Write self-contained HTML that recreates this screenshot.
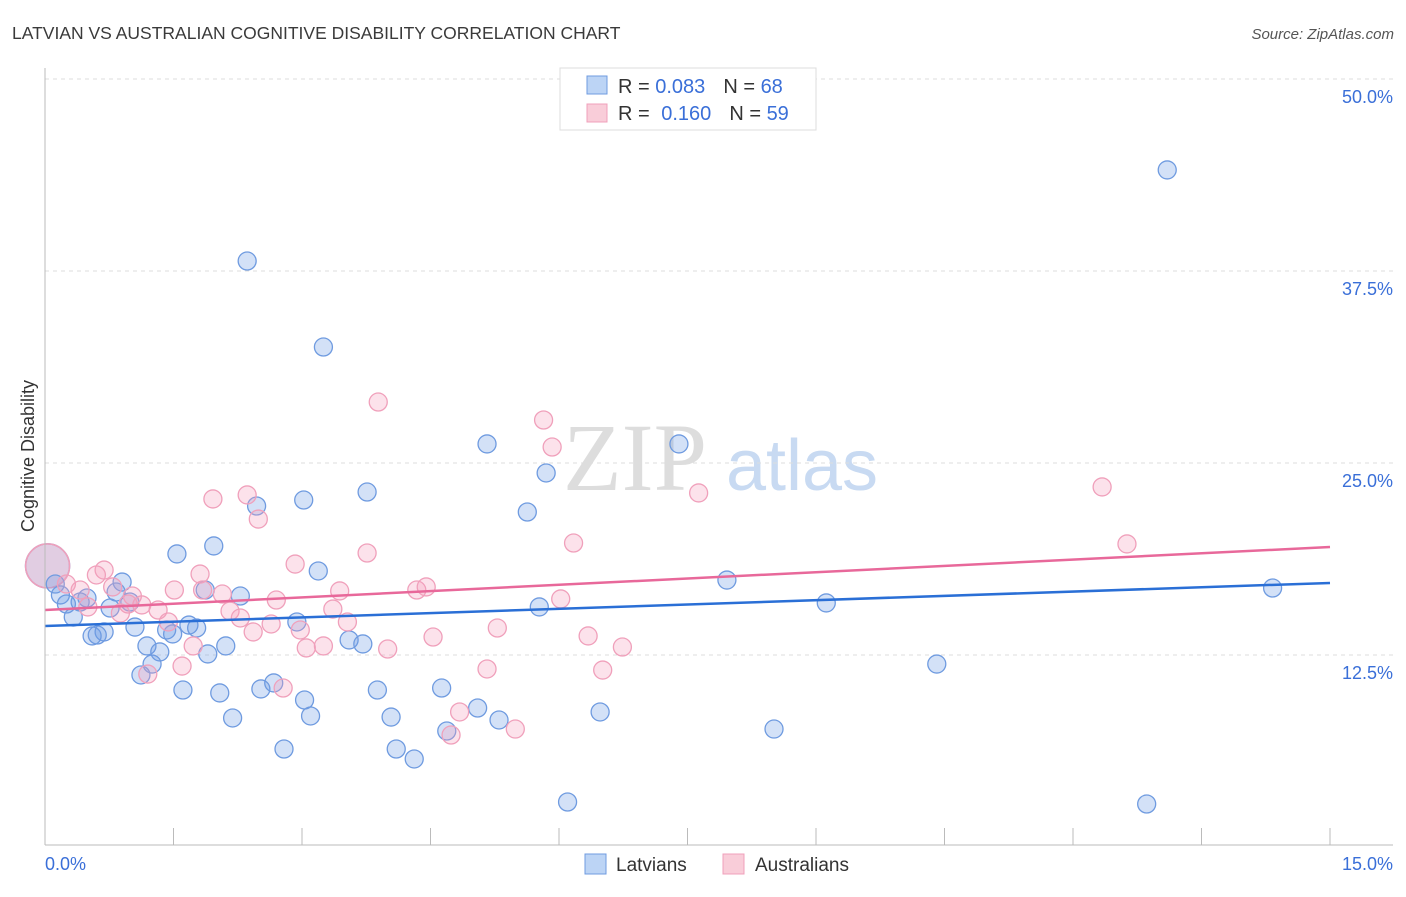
<!DOCTYPE html>
<html><head><meta charset="utf-8"><style>
body{margin:0;background:#fff;font-family:"Liberation Sans",sans-serif}
</style></head><body>
<svg id="chart" width="1406" height="892" xmlns="http://www.w3.org/2000/svg" font-family="Liberation Sans, sans-serif">
<text x="12" y="39" font-size="17.5" fill="#3a3a3a">LATVIAN VS AUSTRALIAN COGNITIVE DISABILITY CORRELATION CHART</text>
<text x="1394" y="39" font-size="15" fill="#555" font-style="italic" text-anchor="end">Source: ZipAtlas.com</text>
<text x="34" y="456" font-size="18" fill="#333" text-anchor="middle" transform="rotate(-90 34 456)">Cognitive Disability</text>
<g><text x="635" y="490" font-size="96" fill="#ddd" style="font-family:'Liberation Serif',serif" text-anchor="middle">ZIP</text><text x="802" y="490" font-size="72" fill="#c8daf2" text-anchor="middle">atlas</text></g>
<g id="grid"></g><g id="ticks"></g><g id="marks"></g><g id="trends"></g>
<line x1="45" y1="68" x2="45" y2="845" stroke="#bbb"/>
<line x1="45" y1="845" x2="1393" y2="845" stroke="#bbb"/>
<text x="45" y="870" font-size="18" fill="#3a6fd8">0.0%</text>
<text x="1393" y="870" font-size="18" fill="#3a6fd8" text-anchor="end">15.0%</text>
<g>
<rect x="560" y="68" width="256" height="62" fill="#fff" stroke="#ddd"/>
<rect x="587" y="76" width="20" height="18" fill="#bcd4f5" stroke="#6f9be0"/>
<text x="618" y="93" font-size="20" fill="#333">R = <tspan fill="#3a6fd8">0.083</tspan><tspan dx="18">N = </tspan><tspan fill="#3a6fd8">68</tspan></text>
<rect x="587" y="104" width="20" height="18" fill="#f9cdd9" stroke="#f0a0bb"/>
<text x="618" y="120" font-size="20" fill="#333">R = <tspan dx="6" fill="#3a6fd8">0.160</tspan><tspan dx="18">N = </tspan><tspan fill="#3a6fd8">59</tspan></text>
</g>
<g>
<rect x="585" y="854" width="21" height="20" fill="#bcd4f5" stroke="#6f9be0"/>
<text x="616" y="871" font-size="19" fill="#333">Latvians</text>
<rect x="723" y="854" width="21" height="20" fill="#f9cdd9" stroke="#f0a0bb"/>
<text x="755" y="871" font-size="19" fill="#333">Australians</text>
</g>
</svg>
<script>
const yTicks=[12.5,25,37.5,50];
const yTickLabels=["12.5%","25.0%","37.5%","50.0%"];
const xTicks=[1.5,3,4.5,6,7.5,9,10.5,12,13.5,15];
const latX=[13.10,2.36,3.25,5.16,7.40,5.85,3.76,3.02,2.47,5.63,1.97,1.54,3.19,7.96,14.33,0.90,0.12,0.18,0.83,0.49,2.28,1.87,0.41,0.99,0.25,0.76,5.77,9.12,0.33,2.94,1.68,1.05,1.77,1.42,1.49,0.69,0.55,0.61,3.55,3.71,1.19,2.11,1.34,1.90,1.25,10.41,1.12,2.67,1.61,2.52,3.88,4.63,2.04,3.03,5.05,6.48,3.10,4.04,2.19,5.30,4.69,8.51,2.79,4.10,4.31,6.10,12.86];
const latY=[44.08,38.15,32.55,26.24,26.24,24.35,23.11,22.59,22.20,21.81,19.60,19.08,17.97,17.38,16.86,17.25,17.12,16.41,16.60,16.21,16.34,16.73,15.95,15.95,15.82,15.56,15.63,15.89,14.97,14.65,14.45,14.32,14.26,14.13,13.87,14.00,13.74,13.80,13.48,13.22,13.09,13.09,12.70,12.57,11.91,11.91,11.20,10.68,10.22,10.29,10.22,10.35,10.03,9.57,9.05,8.79,8.53,8.46,8.40,8.27,7.55,7.68,6.38,6.38,5.73,2.93,2.80];
const ausX=[3.89,5.82,5.92,1.96,2.36,7.63,12.34,2.49,6.17,12.63,3.76,2.92,1.81,0.69,0.60,0.25,0.41,0.79,1.51,1.84,2.07,3.44,4.34,4.45,1.02,2.70,6.02,0.97,1.13,0.50,1.32,0.88,2.16,3.36,2.28,1.44,2.64,3.53,2.98,2.43,5.28,4.53,6.34,3.05,3.25,1.73,4.00,6.74,1.60,5.16,6.51,1.20,2.78,4.84,5.49,4.74];
const ausY=[28.97,27.80,26.04,22.66,22.92,23.05,23.44,21.35,19.79,19.73,19.14,18.42,17.77,18.03,17.71,17.12,16.73,16.93,16.73,16.73,16.47,16.67,16.73,16.93,16.34,16.08,16.15,15.82,15.76,15.63,15.43,15.23,15.36,15.49,14.91,14.65,14.52,14.65,14.13,14.00,14.26,13.67,13.74,12.96,13.09,13.09,12.89,13.02,11.78,11.59,11.52,11.26,10.35,8.79,7.68,7.29];
const bigPoint=[0.03,18.3];
const latTrend=[14.39,17.19];
const ausTrend=[15.43,19.53];
const NS="http://www.w3.org/2000/svg";
const X=v=>45+v*(1285/15);
const Y=v=>847-v*(192/12.5);
function mk(tag,attrs,parent){const e=document.createElementNS(NS,tag);for(const k in attrs)e.setAttribute(k,attrs[k]);document.getElementById(parent).appendChild(e);return e;}
yTicks.forEach((t,i)=>{
 const l=mk('line',{x1:45,x2:1393,y1:Y(t),y2:Y(t),stroke:'#ddd','stroke-dasharray':'4,4'},'grid');
 
 
 const tx=mk('text',{x:1393,y:Y(t)+24,'font-size':18,fill:'#3a6fd8','text-anchor':'end'},'grid');
 tx.textContent=yTickLabels[i];
 
 
});
xTicks.forEach(t=>{
 const l=mk('line',{x1:X(t),x2:X(t),y1:828,y2:845,stroke:'#bbb'},'ticks');
 
 
});
function big(fill,stroke){const c=mk('circle',{cx:X(bigPoint[0]),cy:Y(bigPoint[1]),r:22,fill:fill,stroke:stroke,'stroke-width':1.5},'marks');
 
 }
big('rgba(110,150,225,0.25)','#6f9be0');big('rgba(240,150,180,0.3)','#f0a0bb');
latX.forEach((x,i)=>{const c=mk('circle',{cx:X(x),cy:Y(latY[i]),r:9,fill:'rgba(110,155,230,0.3)',stroke:'#6f9be0','stroke-width':1.3},'marks');
 
 });
ausX.forEach((x,i)=>{const c=mk('circle',{cx:X(x),cy:Y(ausY[i]),r:9,fill:'rgba(245,160,190,0.3)',stroke:'#f0a0bb','stroke-width':1.3},'marks');
 
 });
const t1=mk('line',{x1:X(0),x2:X(15),y1:Y(latTrend[0]),y2:Y(latTrend[1]),stroke:'#2a6fd6','stroke-width':2.5},'trends');


const t2=mk('line',{x1:X(0),x2:X(15),y1:Y(ausTrend[0]),y2:Y(ausTrend[1]),stroke:'#e8689a','stroke-width':2.5},'trends');


</script>
</body></html>
